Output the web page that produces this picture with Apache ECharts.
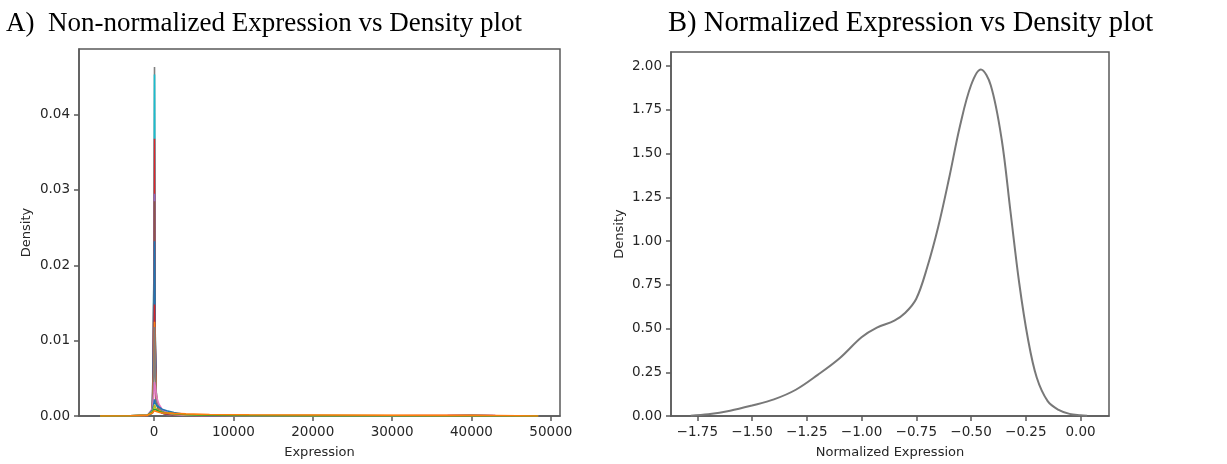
<!DOCTYPE html>
<html>
<head>
<meta charset="utf-8">
<script src="https://cdn.jsdelivr.net/npm/echarts@6/dist/echarts.min.js"></script>
<style>
  html, body { margin: 0; padding: 0; background: #fff; }
  #chart { width: 1227px; height: 464px; }
</style>
</head>
<body>
<div id="chart"></div>
<script>
// ---------- Panel A: non-normalized expression densities (one curve per sample) ----------
const expressionGrid = [-6800, -3000, -800, -200, 0, 60, 150, 300, 600, 1000, 1600, 2500, 4000, 7000, 12000, 20000, 30000, 37000, 40000, 43000, 48400];

const sampleGray1   = [0, 0.00001, 0.00004, 0.0004, 0.020, 0.0463, 0.0110, 0.0020, 0.0008, 0.0004, 0.0002, 0.00012, 0.00008, 0.00005, 0.00003, 0.00002, 0.00002, 0.00002, 0.00003, 0.00002, 0];
const sampleCyan    = [0, 0.00001, 0.00004, 0.0004, 0.021, 0.0453, 0.0105, 0.0018, 0.0007, 0.0004, 0.0002, 0.00012, 0.00008, 0.00005, 0.00003, 0.00002, 0.00002, 0.00002, 0.00003, 0.00002, 0];
const sampleRed1    = [0, 0.00001, 0.00005, 0.0005, 0.018, 0.0368, 0.0100, 0.0019, 0.0008, 0.0004, 0.0002, 0.00013, 0.00008, 0.00005, 0.00003, 0.00002, 0.00002, 0.00002, 0.00003, 0.00002, 0];
const samplePurple  = [0, 0.00001, 0.00005, 0.0005, 0.015, 0.0295, 0.0095, 0.0020, 0.0009, 0.0005, 0.0003, 0.00015, 0.00009, 0.00006, 0.00004, 0.00003, 0.00003, 0.00005, 0.00010, 0.00005, 0];
const sampleBrown   = [0, 0.00001, 0.00005, 0.0005, 0.014, 0.0285, 0.0090, 0.0020, 0.0009, 0.0005, 0.0003, 0.00015, 0.00009, 0.00006, 0.00004, 0.00003, 0.00003, 0.00003, 0.00004, 0.00003, 0];
const sampleBlue1   = [0, 0.00001, 0.00006, 0.0006, 0.012, 0.0232, 0.0085, 0.0022, 0.0010, 0.0006, 0.0003, 0.00016, 0.00010, 0.00007, 0.00004, 0.00003, 0.00003, 0.00003, 0.00004, 0.00003, 0];
const sampleRed2    = [0, 0.00001, 0.00006, 0.0006, 0.008, 0.0148, 0.0070, 0.0022, 0.0010, 0.0006, 0.0003, 0.00016, 0.00010, 0.00007, 0.00004, 0.00003, 0.00003, 0.00003, 0.00004, 0.00003, 0];
const sampleOrange1 = [0, 0.00001, 0.00007, 0.0007, 0.007, 0.0125, 0.0065, 0.0023, 0.0011, 0.0006, 0.0004, 0.00020, 0.00014, 0.00010, 0.00008, 0.00007, 0.00006, 0.00005, 0.00006, 0.00004, 0];
const sampleGray2   = [0, 0.00002, 0.00008, 0.0008, 0.006, 0.0118, 0.0060, 0.0022, 0.0011, 0.0007, 0.0004, 0.00020, 0.00010, 0.00006, 0.00004, 0.00003, 0.00003, 0.00003, 0.00004, 0.00003, 0];
const samplePink    = [0, 0.00002, 0.00010, 0.0010, 0.003, 0.0045, 0.0040, 0.0026, 0.0016, 0.0009, 0.0005, 0.00025, 0.00012, 0.00007, 0.00004, 0.00003, 0.00004, 0.00008, 0.00014, 0.00006, 0];
const sampleBlue2   = [0, 0.00003, 0.00012, 0.0008, 0.0018, 0.0022, 0.0018, 0.0014, 0.0012, 0.0009, 0.0007, 0.00045, 0.00020, 0.00008, 0.00004, 0.00003, 0.00003, 0.00004, 0.00006, 0.00004, 0];
const sampleOlive   = [0, 0.00003, 0.00010, 0.0006, 0.0012, 0.0015, 0.0012, 0.0009, 0.0007, 0.0005, 0.0004, 0.00030, 0.00018, 0.00010, 0.00006, 0.00004, 0.00003, 0.00003, 0.00004, 0.00003, 0];
const sampleGreen   = [0, 0.00003, 0.00010, 0.0005, 0.0009, 0.0010, 0.0009, 0.0008, 0.0006, 0.0005, 0.0004, 0.00030, 0.00020, 0.00012, 0.00007, 0.00005, 0.00004, 0.00004, 0.00005, 0.00004, 0];
const sampleOrange2 = [0, 0.00004, 0.00012, 0.0004, 0.0007, 0.0008, 0.0007, 0.0006, 0.0005, 0.0004, 0.0004, 0.00035, 0.00028, 0.00020, 0.00016, 0.00013, 0.00010, 0.00008, 0.00008, 0.00006, 0];

const sampleNames = ['S1','S2','S3','S4','S5','S6','S7','S8','S9','S10','S11','S12','S13','S14'];
const sampleValues = [sampleGray1, sampleCyan, sampleRed1, samplePurple, sampleBrown, sampleBlue1, sampleRed2, sampleOrange1, sampleGray2, samplePink, sampleBlue2, sampleOlive, sampleGreen, sampleOrange2];
const sampleColors = ['#7f7f7f','#17becf','#e0262a','#9467bd','#8c564b','#1f77b4','#d62728','#ff7f0e','#7f7f7f','#e377c2','#1f77b4','#bcbd22','#2ca02c','#ff7f0e'];

const aXTicks = [0, 10000, 20000, 30000, 40000, 50000];
const aYTicks = [0, 0.01, 0.02, 0.03, 0.04];

// ---------- Panel B: normalized expression density ----------
const normExpression = [-1.78, -1.70, -1.60, -1.50, -1.40, -1.30, -1.20, -1.10, -1.00, -0.93, -0.85, -0.80, -0.75, -0.70, -0.65, -0.60, -0.55, -0.50, -0.455, -0.41, -0.36, -0.32, -0.28, -0.24, -0.20, -0.15, -0.10, -0.05, 0.00, 0.03];
const normDensity    = [0.002, 0.010, 0.030, 0.060, 0.095, 0.150, 0.235, 0.330, 0.450, 0.505, 0.545, 0.590, 0.670, 0.850, 1.080, 1.360, 1.660, 1.890, 1.980, 1.890, 1.580, 1.170, 0.760, 0.440, 0.220, 0.085, 0.035, 0.012, 0.004, 0.001];

const bXTicks = [-1.75, -1.50, -1.25, -1.00, -0.75, -0.50, -0.25, 0.00];
const bYTicks = [0, 0.25, 0.5, 0.75, 1.0, 1.25, 1.5, 1.75, 2.0];

// ---------- chart ----------
const tickFont = { fontFamily: 'DejaVu Sans', fontSize: 13.5, color: '#262626' };
const nameFont = { fontFamily: 'DejaVu Sans', fontSize: 13, color: '#262626' };
const axisLineStyle = { color: '#5a5a5a', width: 1.5 };

function makeXAxis(gridIndex, min, max, ticks, name, fmt) {
  return {
    type: 'value', gridIndex, min, max,
    name, nameLocation: 'middle', nameGap: 30,
    nameTextStyle: nameFont,
    axisLine: { show: true, onZero: false, lineStyle: axisLineStyle },
    axisTick: { show: true, inside: false, length: 5, customValues: ticks, lineStyle: axisLineStyle },
    axisLabel: Object.assign({ customValues: ticks, margin: 9, formatter: fmt }, tickFont),
    splitLine: { show: false }
  };
}
function makeYAxis(gridIndex, min, max, ticks, name, fmt, gap) {
  return {
    type: 'value', gridIndex, min, max,
    name, nameLocation: 'middle', nameGap: gap,
    nameTextStyle: nameFont,
    axisLine: { show: true, onZero: false, lineStyle: axisLineStyle },
    axisTick: { show: true, inside: false, length: 5, customValues: ticks, lineStyle: axisLineStyle },
    axisLabel: Object.assign({ customValues: ticks, margin: 9, formatter: fmt }, tickFont),
    splitLine: { show: false }
  };
}

const minusFmt2 = v => v.toFixed(2).replace('-', '\u2212');

const seriesA = sampleValues.map((vals, i) => ({
  type: 'line', name: sampleNames[i], xAxisIndex: 0, yAxisIndex: 0,
  data: expressionGrid.map((x, j) => [x, vals[j]]),
  showSymbol: false, symbol: 'none', smooth: false,
  lineStyle: { color: sampleColors[i], width: 1.6 },
  itemStyle: { color: sampleColors[i] },
  z: 2 + i
}));

const seriesB = {
  type: 'line', name: 'Normalized', xAxisIndex: 1, yAxisIndex: 1,
  data: normExpression.map((x, j) => [x, normDensity[j]]),
  showSymbol: false, symbol: 'none', smooth: 0.35,
  lineStyle: { color: '#787878', width: 2 },
  itemStyle: { color: '#787878' }
};

const chart = echarts.init(document.getElementById('chart'), null, { renderer: 'canvas' });
chart.setOption({
  animation: false,
  backgroundColor: '#ffffff',
  title: [
    { text: 'A)  Non-normalized Expression vs Density plot', left: 6, top: 10, padding: 0,
      textStyle: { fontFamily: 'Liberation Serif', fontSize: 27, fontWeight: 'normal', color: '#000' } },
    { text: 'B) Normalized Expression vs Density plot', left: 668, top: 9, padding: 0,
      textStyle: { fontFamily: 'Liberation Serif', fontSize: 28.6, fontWeight: 'normal', color: '#000' } }
  ],
  grid: [
    { left: 79, right: 667, top: 49, bottom: 46, show: true, borderColor: '#5a5a5a', borderWidth: 1.5, backgroundColor: '#fff' },
    { left: 671, right: 118, top: 52, bottom: 45, show: true, borderColor: '#5a5a5a', borderWidth: 1.5, backgroundColor: '#fff' }
  ],
  xAxis: [
    makeXAxis(0, -9455, 51155, aXTicks, 'Expression', v => String(v)),
    makeXAxis(1, -1.87, 0.13, bXTicks, 'Normalized Expression', minusFmt2)
  ],
  yAxis: [
    makeYAxis(0, 0, 0.0487, aYTicks, 'Density', v => v.toFixed(2), 46),
    makeYAxis(1, 0, 2.08, bYTicks, 'Density', v => v.toFixed(2), 45)
  ],
  series: seriesA.concat([seriesB])
});
</script>
</body>
</html>
